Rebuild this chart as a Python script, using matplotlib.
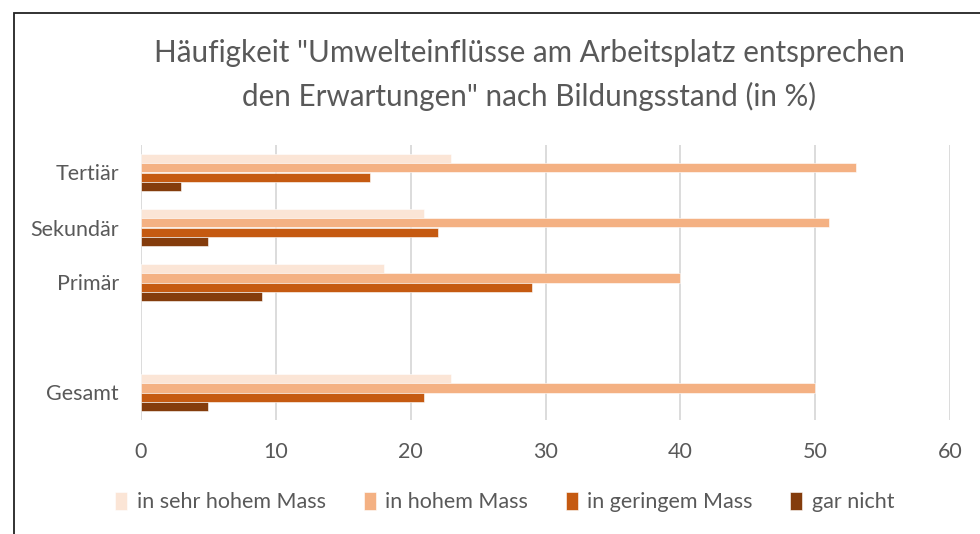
import numpy as np
import matplotlib
matplotlib.use("Agg")
import matplotlib.pyplot as plt
from matplotlib.patches import Rectangle

plt.rcParams['font.family'] = ['Lato', 'DejaVu Sans']

# data
categories = ['Tertiär', 'Sekundär', 'Primär', '', 'Gesamt']
series = ['in sehr hohem Mass', 'in hohem Mass', 'in geringem Mass', 'gar nicht']
sehr_hoch = [23, 21, 18, np.nan, 23]
hoch = [53, 51, 40, np.nan, 50]
gering = [17, 22, 29, np.nan, 21]
gar_nicht = [3, 5, 9, np.nan, 5]
colors = ['#FBE5D6', '#F4B183', '#C55A11', '#843C0C']
text_col = '#595959'

fig = plt.figure(figsize=(9.8, 5.34), dpi=100)
ax = fig.add_axes([141 / 980, 1 - 420 / 534, 809 / 980, 275 / 534])

y = np.arange(len(categories))
h = 0.17
for i, (vals, c, name) in enumerate(zip([sehr_hoch, hoch, gering, gar_nicht], colors, series)):
    ax.barh(y + (i - 1.5) * h, vals, height=h, color=c, label=name,
            edgecolor='white', linewidth=0.4, zorder=3)

ax.set_xlim(0, 60)
ax.set_ylim(len(categories) - 0.5, -0.5)
ax.set_xticks(range(0, 61, 10))
ax.set_yticks(y)
ax.set_yticklabels(categories)
ax.tick_params(axis='both', length=0, labelsize=15.5, colors=text_col)
ax.tick_params(axis='x', pad=16)
ax.tick_params(axis='y', pad=16)
ax.grid(axis='x', color='#D9D9D9', linewidth=1.3, zorder=0)
for s in ax.spines.values():
    s.set_visible(False)

fig.text(529 / 980, 1 - 53 / 534, 'Häufigkeit "Umwelteinflüsse am Arbeitsplatz entsprechen',
         ha='center', va='center', fontsize=21.3, color=text_col)
fig.text(529 / 980, 1 - 96 / 534, 'den Erwartungen" nach Bildungsstand (in %)',
         ha='center', va='center', fontsize=21.3, color=text_col)

fig.legend(loc='center', bbox_to_anchor=(505 / 980, 1 - 502 / 534), ncol=4,
           frameon=False, fontsize=15.5, handlelength=0.55, handleheight=0.9,
           handletextpad=0.45, columnspacing=1.75, labelcolor=text_col)

fig.patches.append(Rectangle((14 / 980, -0.05), 1.2, 1 - 13 / 534 + 0.05,
                             transform=fig.transFigure, fill=False,
                             edgecolor='#222222', linewidth=1.3))

fig.savefig('out.png', dpi=100)
